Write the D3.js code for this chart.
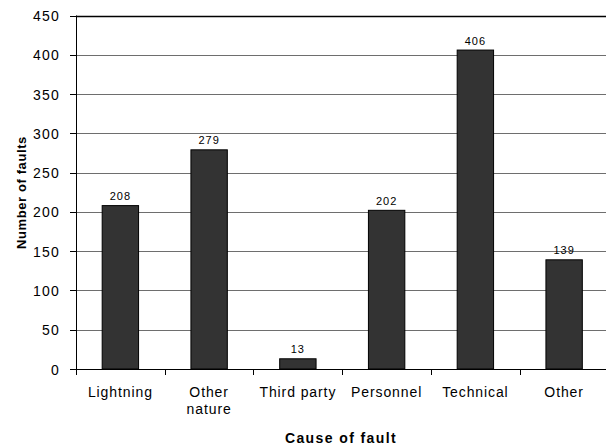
<!DOCTYPE html>
<html>
<head>
<meta charset="utf-8">
<script src="https://cdn.jsdelivr.net/npm/d3@7"></script>
<style>
  html, body { margin: 0; padding: 0; background: #fff; }
  svg { display: block; font-family: "Liberation Sans", Arial, sans-serif; }
</style>
</head>
<body>
<svg id="chart" width="606" height="445"></svg>
<script>
// Fault counts by cause
const categories = ["Lightning", "Other\nnature", "Third party", "Personnel", "Technical", "Other"];
const faults = [208, 279, 13, 202, 406, 139];
const yTicks = [0, 50, 100, 150, 200, 250, 300, 350, 400, 450];

const svg = d3.select("#chart");
const plotLeft = 76, plotRight = 608.5, plotTop = 15.5, plotBottom = 369;

const x = d3.scaleBand()
  .domain(categories)
  .range([plotLeft, plotRight])
  .paddingInner(0.59)
  .paddingOuter(0.295);

const y = d3.scaleLinear().domain([0, 450]).range([plotBottom, plotTop]);

// horizontal gridlines
svg.append("g")
  .selectAll("line")
  .data(yTicks.filter(d => d > 0))
  .join("line")
  .attr("x1", plotLeft).attr("x2", plotRight)
  .attr("y1", d => Math.round(y(d)) + 0.5)
  .attr("y2", d => Math.round(y(d)) + 0.5)
  .attr("stroke", d => d === 450 ? "#000" : "#6e6e6e")
  .attr("stroke-width", d => d === 450 ? 1.3 : 1);

// bars
svg.append("g")
  .selectAll("rect")
  .data(faults)
  .join("rect")
  .attr("x", (d, i) => x(categories[i]))
  .attr("y", d => y(d))
  .attr("width", x.bandwidth())
  .attr("height", d => plotBottom - y(d))
  .attr("fill", "#333333")
  .attr("stroke", "#000")
  .attr("stroke-width", 1);

// value labels
svg.append("g")
  .selectAll("text")
  .data(faults)
  .join("text")
  .attr("x", (d, i) => x(categories[i]) + x.bandwidth() / 2)
  .attr("y", d => y(d) - 5.5)
  .attr("text-anchor", "middle")
  .attr("font-size", 11)
  .attr("letter-spacing", 1)
  .attr("fill", "#000")
  .text(d => d);

// y axis
const yAxis = svg.append("g");
yAxis.append("line")
  .attr("x1", plotLeft + 0.5).attr("x2", plotLeft + 0.5)
  .attr("y1", plotTop).attr("y2", plotBottom)
  .attr("stroke", "#000");
yAxis.selectAll("line.tick")
  .data(yTicks)
  .join("line")
  .attr("class", "tick")
  .attr("x1", plotLeft - 6).attr("x2", plotLeft)
  .attr("y1", d => Math.round(y(d)) + 0.5)
  .attr("y2", d => Math.round(y(d)) + 0.5)
  .attr("stroke", "#000");
yAxis.selectAll("text")
  .data(yTicks)
  .join("text")
  .attr("x", 60)
  .attr("y", d => y(d) + 5.5)
  .attr("text-anchor", "end")
  .attr("font-size", 14)
  .attr("letter-spacing", 1.2)
  .attr("fill", "#000")
  .text(d => d);

// x axis
const xAxis = svg.append("g");
xAxis.append("line")
  .attr("x1", plotLeft).attr("x2", plotRight)
  .attr("y1", plotBottom + 0.5).attr("y2", plotBottom + 0.5)
  .attr("stroke", "#000");
const step = x.step();
xAxis.selectAll("line.tick")
  .data(categories)
  .join("line")
  .attr("class", "tick")
  .attr("x1", d => Math.round(x(d) - step * x.paddingOuter()) + 0.5)
  .attr("x2", d => Math.round(x(d) - step * x.paddingOuter()) + 0.5)
  .attr("y1", plotBottom).attr("y2", plotBottom + 6)
  .attr("stroke", "#000");

const catLabels = xAxis.selectAll("text")
  .data(categories)
  .join("text")
  .attr("x", d => x(d) + x.bandwidth() / 2)
  .attr("y", 397)
  .attr("text-anchor", "middle")
  .attr("font-size", 14)
  .attr("letter-spacing", 0.9)
  .attr("fill", "#000");
catLabels.each(function(d) {
  const t = d3.select(this);
  d.split("\n").forEach((line, i) => {
    t.append("tspan")
      .attr("x", x(d) + x.bandwidth() / 2)
      .attr("dy", i === 0 ? 0 : 16.7)
      .text(line);
  });
});

// axis titles
svg.append("text")
  .attr("x", 341)
  .attr("y", 442.5)
  .attr("text-anchor", "middle")
  .attr("font-size", 14)
  .attr("font-weight", "bold")
  .attr("letter-spacing", 1.4)
  .attr("fill", "#000")
  .text("Cause of fault");

svg.append("text")
  .attr("transform", "translate(26,192.5) rotate(-90)")
  .attr("text-anchor", "middle")
  .attr("font-size", 13)
  .attr("font-weight", "bold")
  .attr("letter-spacing", 0.6)
  .attr("fill", "#000")
  .text("Number of faults");
</script>
</body>
</html>
